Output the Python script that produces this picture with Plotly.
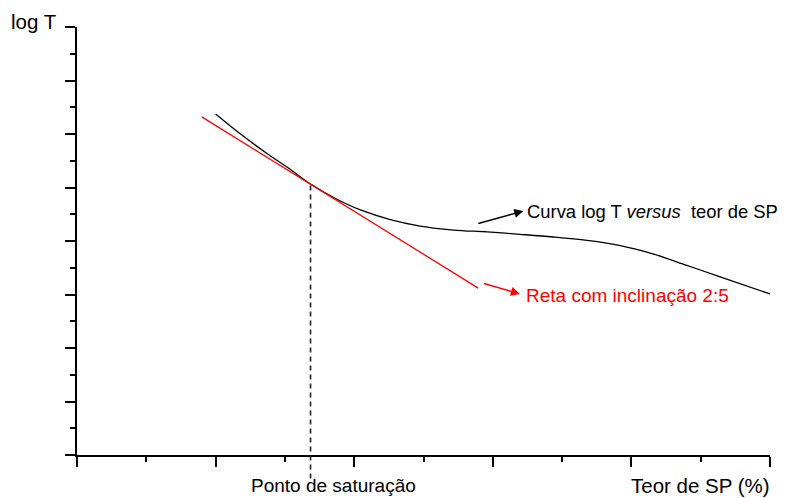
import plotly.graph_objects as go

# Curve "log T versus teor de SP"
curve_x = [20.0, 23.6, 27.2, 30.8, 33.7, 37.3, 40.9, 45.2, 49.5, 54.3, 59.2, 63.9,
           68.7, 73.6, 78.4, 83.1, 88.0, 92.8, 100.0]
curve_y = [12.75, 12.0, 11.31, 10.67, 10.13, 9.59, 9.16, 8.80, 8.56, 8.41, 8.34, 8.25,
           8.15, 8.02, 7.83, 7.52, 7.09, 6.66, 6.02]

# Tangent line with slope 2:5
line_x = [18.0, 57.9]
line_y = [12.64, 6.24]

# Saturation point
sat_x = 33.7
sat_y = 10.13

x_range = [0, 100]
y_range = [0, 16]

FONT = "Arial, Liberation Sans, Helvetica, sans-serif"

fig = go.Figure()
fig.add_trace(go.Scatter(x=curve_x, y=curve_y, mode="lines", line_shape="spline",
                         line=dict(color="black", width=1.3), hoverinfo="skip"))
fig.add_trace(go.Scatter(x=line_x, y=line_y, mode="lines",
                         line=dict(color="#ff0000", width=1.3), hoverinfo="skip"))

# dashed vertical line at saturation point, extending below the axis
y_sat_paper = (sat_y - y_range[0]) / (y_range[1] - y_range[0])
fig.add_shape(type="line", xref="x", yref="paper", x0=sat_x, x1=sat_x,
              y0=-0.055, y1=y_sat_paper,
              line=dict(color="#222222", width=1.6, dash="5px,4px"))

annots = [
    dict(text="log T", xref="paper", yref="paper", x=-0.026, y=1.012,
         xanchor="right", yanchor="middle", showarrow=False, font=dict(size=20.5)),
    dict(text="Teor de SP (%)", xref="paper", yref="paper", x=1.003, y=-0.072,
         xanchor="right", yanchor="middle", showarrow=False, font=dict(size=20.5)),
    dict(text="Ponto de saturação", xref="x", yref="paper", x=24.8, y=-0.072,
         xanchor="left", yanchor="middle", showarrow=False, font=dict(size=19)),
    dict(text="Curva log T <i>versus</i>  teor de SP", xref="x", yref="y", x=64.7, y=9.12,
         xanchor="left", yanchor="middle", showarrow=False, font=dict(size=18.4, color="black")),
    dict(text="Reta com inclinação 2:5", xref="x", yref="y", x=64.5, y=5.98,
         xanchor="left", yanchor="middle", showarrow=False, font=dict(size=19, color="#ff0000")),
    # arrows
    dict(text="", xref="x", yref="y", axref="x", ayref="y", x=64.4, y=9.12, ax=57.7, ay=8.64,
         showarrow=True, arrowhead=2, arrowsize=1.2, arrowwidth=1.5, arrowcolor="black"),
    dict(text="", xref="x", yref="y", axref="x", ayref="y", x=63.9, y=6.02, ax=58.5, ay=6.43,
         showarrow=True, arrowhead=2, arrowsize=1.2, arrowwidth=1.5, arrowcolor="#ff0000"),
]

fig.update_layout(
    width=785, height=498,
    margin=dict(l=77, r=15, t=27, b=43),
    paper_bgcolor="white", plot_bgcolor="white",
    showlegend=False,
    font=dict(family=FONT, color="black", size=19),
    annotations=annots,
    xaxis=dict(range=x_range, showgrid=False, zeroline=False, showline=True,
               linecolor="black", linewidth=2, ticks="outside", ticklen=10, tickwidth=2,
               tickcolor="black", dtick=20, tick0=0, showticklabels=False,
               minor=dict(ticks="outside", ticklen=5, tickwidth=2, tickcolor="black", dtick=10)),
    yaxis=dict(range=y_range, showgrid=False, zeroline=False, showline=True,
               linecolor="black", linewidth=2, ticks="outside", ticklen=10, tickwidth=2,
               tickcolor="black", dtick=2, tick0=0, showticklabels=False,
               minor=dict(ticks="outside", ticklen=5, tickwidth=2, tickcolor="black", dtick=1)),
)

fig.write_html("out.html", config={"displayModeBar": False})

# remove default page margin so the figure sits at the window's top-left corner
with open("out.html", "r", encoding="utf-8") as f:
    html = f.read()
html = html.replace("<head>", "<head><style>html,body{margin:0;padding:0;overflow:hidden;}</style>", 1)
with open("out.html", "w", encoding="utf-8") as f:
    f.write(html)
